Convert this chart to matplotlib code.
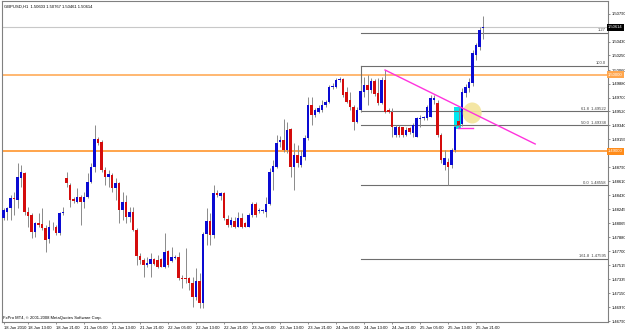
import numpy as np
import matplotlib.pyplot as plt
from matplotlib.patches import Rectangle, Ellipse

# GBPUSD H1, 18 Jun 2010 05:00 .. 25 Jun 2010 23:00 (one value per bar)
opens = [1.48128, 1.48215, 1.48258, 1.48389, 1.48367, 1.48649, 1.48714, 1.48215, 1.48172, 1.47954,
         1.48063, 1.48050, 1.48006, 1.47854, 1.48011, 1.48019, 1.47933, 1.48193, 1.48649, 1.48562,
         1.48376, 1.48345, 1.48410, 1.48345, 1.48410, 1.48606, 1.48801, 1.49157, 1.49127, 1.48758,
         1.48662, 1.48693, 1.48519, 1.48584, 1.48237, 1.48345, 1.48150, 1.48215, 1.47976, 1.47642,
         1.47585, 1.47520, 1.47533, 1.47594, 1.47585, 1.47594, 1.47498, 1.47702, 1.47572, 1.47611,
         1.47620, 1.47346, 1.47351, 1.47346, 1.47290, 1.47099, 1.47312, 1.47029, 1.47924, 1.48098,
         1.47911, 1.48462, 1.48423, 1.48454, 1.48115, 1.48041, 1.48098, 1.48019, 1.48137, 1.48072,
         1.48019, 1.48172, 1.48315, 1.48219, 1.48219, 1.48215, 1.48315, 1.48736, 1.48801, 1.49127,
         1.49149, 1.49018, 1.49292, 1.48793, 1.48953, 1.48822, 1.48931, 1.49170, 1.49604, 1.49474,
         1.49518, 1.49539, 1.49604, 1.49648, 1.49835, 1.49843, 1.49930, 1.49939, 1.49778, 1.49670,
         1.49583, 1.49387, 1.49539, 1.49778, 1.49865, 1.49800, 1.49921, 1.49756, 1.49626, 1.49930,
         1.49539, 1.49518, 1.49213, 1.49322, 1.49313, 1.49213, 1.49300, 1.49235, 1.49192, 1.49426,
         1.49431, 1.49431, 1.49452, 1.49670, 1.49630, 1.49213, 1.48823, 1.48862, 1.48823, 1.49018,
         1.49396, 1.49357, 1.49761, 1.49826, 1.49891, 1.50256, 1.50360, 1.50603]
highs = [1.48258, 1.48280, 1.48432, 1.48476, 1.48845, 1.48823, 1.48736, 1.48280, 1.48193, 1.48085,
         1.48193, 1.48258, 1.48041, 1.48106, 1.48085, 1.48041, 1.48215, 1.48280, 1.48736, 1.48584,
         1.48410, 1.48519, 1.48432, 1.48476, 1.48714, 1.48845, 1.49344, 1.49192, 1.49149, 1.48801,
         1.48758, 1.48714, 1.48649, 1.48606, 1.48476, 1.48432, 1.48280, 1.48280, 1.47998, 1.47672,
         1.47607, 1.47629, 1.47672, 1.47607, 1.47650, 1.47607, 1.47941, 1.47715, 1.47759, 1.47650,
         1.47694, 1.47390, 1.47737, 1.47368, 1.47368, 1.47477, 1.47411, 1.47954, 1.48258, 1.48193,
         1.48562, 1.48497, 1.48476, 1.48476, 1.48172, 1.48150, 1.48150, 1.48215, 1.48193, 1.48085,
         1.48193, 1.48345, 1.48345, 1.48258, 1.48245, 1.48410, 1.48780, 1.48888, 1.49214, 1.49201,
         1.49418, 1.49388, 1.49301, 1.49105, 1.49084, 1.49018, 1.49213, 1.49713, 1.49713, 1.49561,
         1.49604, 1.49670, 1.49670, 1.49865, 1.49887, 1.49952, 1.49973, 1.49952, 1.49843, 1.49778,
         1.49604, 1.49583, 1.49887, 1.49973, 1.49995, 1.49952, 1.49939, 1.49952, 1.49973, 1.50060,
         1.49561, 1.49561, 1.49344, 1.49344, 1.49322, 1.49322, 1.49322, 1.49366, 1.49452, 1.49474,
         1.49461, 1.49604, 1.49735, 1.49735, 1.49670, 1.49240, 1.49018, 1.48914, 1.49044, 1.49344,
         1.49565, 1.49826, 1.49878, 1.49956, 1.50321, 1.50412, 1.50621, 1.50767]
lows = [1.48106, 1.48106, 1.48106, 1.48172, 1.48258, 1.48541, 1.48172, 1.48019, 1.47867, 1.47889,
        1.48019, 1.47976, 1.47694, 1.47802, 1.47976, 1.47911, 1.47911, 1.48172, 1.48541, 1.48280,
        1.48324, 1.48324, 1.48041, 1.48258, 1.48389, 1.48584, 1.48736, 1.49084, 1.48736, 1.48562,
        1.48541, 1.48476, 1.48367, 1.48063, 1.48106, 1.48063, 1.48085, 1.47967, 1.47520, 1.47533,
        1.47368, 1.47498, 1.47368, 1.47520, 1.47477, 1.47490, 1.47477, 1.47498, 1.47563, 1.47594,
        1.47325, 1.47216, 1.47281, 1.47194, 1.46977, 1.47064, 1.46955, 1.46955, 1.47781, 1.47781,
        1.47867, 1.48410, 1.48367, 1.48106, 1.48019, 1.48019, 1.47998, 1.48011, 1.47998, 1.48011,
        1.48011, 1.48150, 1.48150, 1.48193, 1.48202, 1.48150, 1.48302, 1.48497, 1.48780, 1.49053,
        1.48997, 1.48975, 1.48671, 1.48497, 1.48801, 1.48801, 1.48888, 1.49148, 1.49344, 1.49452,
        1.49496, 1.49518, 1.49583, 1.49635, 1.49808, 1.49821, 1.49908, 1.49713, 1.49626, 1.49539,
        1.49279, 1.49366, 1.49518, 1.49713, 1.49604, 1.49756, 1.49722, 1.49604, 1.49617, 1.49505,
        1.49496, 1.49192, 1.49192, 1.49192, 1.49183, 1.49200, 1.49226, 1.49192, 1.49183, 1.49322,
        1.49409, 1.49409, 1.49444, 1.49617, 1.49187, 1.48849, 1.48757, 1.48558, 1.48783, 1.48992,
        1.49305, 1.49331, 1.49709, 1.49774, 1.49852, 1.50191, 1.50321, 1.50461]
closes = [1.48237, 1.48258, 1.48389, 1.48376, 1.48671, 1.48736, 1.48215, 1.48158, 1.47954, 1.48063,
          1.48041, 1.48006, 1.47846, 1.48011, 1.48019, 1.47933, 1.48193, 1.48215, 1.48584, 1.48367,
          1.48358, 1.48410, 1.48345, 1.48410, 1.48606, 1.48801, 1.49157, 1.49114, 1.48758, 1.48662,
          1.48706, 1.48519, 1.48584, 1.48237, 1.48345, 1.48150, 1.48215, 1.47976, 1.47642, 1.47585,
          1.47520, 1.47550, 1.47594, 1.47533, 1.47498, 1.47498, 1.47694, 1.47520, 1.47629, 1.47629,
          1.47346, 1.47333, 1.47338, 1.47290, 1.47099, 1.47312, 1.47029, 1.47924, 1.48098, 1.47911,
          1.48462, 1.48432, 1.48454, 1.48128, 1.48041, 1.48106, 1.48019, 1.48137, 1.48019, 1.48019,
          1.48172, 1.48315, 1.48172, 1.48237, 1.48237, 1.48315, 1.48736, 1.48810, 1.49105, 1.49149,
          1.49018, 1.49279, 1.48801, 1.48953, 1.48845, 1.48940, 1.49170, 1.49604, 1.49474, 1.49539,
          1.49561, 1.49604, 1.49648, 1.49843, 1.49852, 1.49930, 1.49943, 1.49735, 1.49648, 1.49583,
          1.49387, 1.49539, 1.49791, 1.49865, 1.49800, 1.49921, 1.49748, 1.49626, 1.49930, 1.49518,
          1.49518, 1.49322, 1.49322, 1.49213, 1.49213, 1.49279, 1.49257, 1.49344, 1.49431, 1.49439,
          1.49444, 1.49583, 1.49691, 1.49696, 1.49213, 1.48888, 1.48914, 1.48797, 1.49018, 1.49318,
          1.49344, 1.49774, 1.49839, 1.49904, 1.50282, 1.50386, 1.50582, 1.50614]

time_labels = ["18 Jun 2010", "18 Jun 13:00", "18 Jun 21:00", "21 Jun 05:00", "21 Jun 13:00",
               "21 Jun 21:00", "22 Jun 05:00", "22 Jun 13:00", "22 Jun 21:00", "23 Jun 05:00",
               "23 Jun 13:00", "23 Jun 21:00", "24 Jun 05:00", "24 Jun 13:00", "24 Jun 21:00",
               "25 Jun 05:00", "25 Jun 13:00", "25 Jun 21:00"]
time_label_bars = [0, 7, 15, 23, 31, 39, 47, 55, 63, 71, 79, 87, 95, 103, 111, 119, 127, 135]

# right scale (1.50610 and 1.48970 sit under the price boxes)
price_labels = ["1.46790", "1.46970", "1.47150", "1.47335", "1.47515", "1.47700", "1.47880",
                "1.48065", "1.48245", "1.48430", "1.48610", "1.48790", "1.48970", "1.49155",
                "1.49340", "1.49520", "1.49700", "1.49880", "1.50060", "1.50250", "1.50430",
                "1.50610", "1.50790"]
hidden_labels = ["1.48970", "1.50610"]

# horizontal support / resistance lines
levels = [1.50000, 1.49000]
level_labels = ["1.50000", "1.49000"]

# fibonacci object
fib_bar = 102
fib_prices = [1.50542, 1.50118, 1.49522, 1.49338, 1.48558, 1.47595]
fib_texts = ["1.27", "100.0", "61.8  1.49522", "50.0  1.49338", "0.0  1.48558", "161.8  1.47595"]

# trend line + marks
trend_bars = [109, 151.9]
trend_prices = [1.50060, 1.49096]
mark_bars = [129.9, 134.1]
mark_price = 1.49305
box_bars = [128.7, 130.7]
box_prices = [1.49292, 1.49578]
circle_bar, circle_price = 133.9, 1.49500

bid = 1.50614
header = "GBPUSD,H1  1.50603 1.50767 1.50461 1.50614"
footer = "FxPro MT4, \u00a9 2001-2008 MetaQuotes Software Corp."

plt.rcParams['font.family'] = ['Liberation Sans', 'DejaVu Sans']
fs = 3.0
fig = plt.figure(figsize=(6.25, 3.30), dpi=100)
ax = fig.add_axes([2/625, 8/330, 606/625, 321/330])
ax.set_xlim(-0.43, 172.7)
ax.set_ylim(1.46777, 1.50959)

x = np.arange(len(opens))
o = np.array(opens)
h = np.array(highs)
l = np.array(lows)
c = np.array(closes)
up = c >= o

# background objects
ax.add_patch(Rectangle((box_bars[0], box_prices[0]), box_bars[1] - box_bars[0],
                       box_prices[1] - box_prices[0], color='#00e8f0', zorder=1, lw=0))
ax.axhline(bid, color='#c8c8c8', lw=0.8, zorder=1)
ax.axhline(levels[0], color='#ffb266', lw=1.3, zorder=2)
ax.axhline(levels[1], color='#ff8c1a', lw=1.1, zorder=2)

for p, t in zip(fib_prices, fib_texts):
    ax.plot([fib_bar, 172.7], [p, p], color='#6e6e6e', lw=0.8, zorder=2)
    ax.text(172.1, p + 0.00010, t, fontsize=fs, color='#404040', ha='right', va='bottom', zorder=6)
ax.plot([fib_bar, fib_bar], [fib_prices[1], fib_prices[2]], color='#6e6e6e', lw=0.8, zorder=2)

# candles
ax.vlines(x, l, h, color='#8a8a8a', lw=0.7, zorder=3)
body_lo = np.minimum(o, c)
body_h = np.maximum(np.abs(c - o), 0.00007)
cols = ['#0a0ad2' if u else '#d40c0c' for u in up]
ax.bar(x, body_h, bottom=body_lo, width=0.72, color=cols, lw=0, zorder=4)

ax.add_patch(Ellipse((circle_bar, circle_price), 5.4, 0.00274, color='#f3e49a', alpha=0.9, lw=0, zorder=5))
ax.plot(trend_bars, trend_prices, color='#ff33dd', lw=1.0, zorder=6)
ax.plot(mark_bars, [mark_price, mark_price], color='#ff33dd', lw=1.0, zorder=6)

# axes look
for s in ax.spines.values():
    s.set_color('#808080')
    s.set_linewidth(0.8)
ax.yaxis.tick_right()
ax.set_yticks([float(v) for v in price_labels])
ax.set_yticklabels(['' if v in hidden_labels else v for v in price_labels])
ax.set_xticks(time_label_bars)
ax.set_xticklabels(time_labels, ha='left')
ax.tick_params(axis='both', labelsize=fs, length=1.5, width=0.6, color='#808080', pad=1.2)

tr = ax.get_yaxis_transform()
ax.text(1.0, bid, "1.50614", transform=tr, fontsize=fs, color='white', va='center', ha='left',
        bbox=dict(boxstyle='square,pad=0.35', fc='black', ec='none'), zorder=10, clip_on=False)
ax.text(1.0, levels[0], level_labels[0], transform=tr, fontsize=fs, color='white', va='center', ha='left',
        bbox=dict(boxstyle='square,pad=0.35', fc='#ffa64d', ec='none'), zorder=10, clip_on=False)
ax.text(1.0, levels[1], level_labels[1], transform=tr, fontsize=fs, color='white', va='center', ha='left',
        bbox=dict(boxstyle='square,pad=0.35', fc='#ff8c1a', ec='none'), zorder=10, clip_on=False)

ax.text(0.004, 0.988, header, transform=ax.transAxes, fontsize=fs, va='top', ha='left')
ax.text(0.002, 0.006, footer, transform=ax.transAxes, fontsize=fs, va='bottom', ha='left')

fig.savefig('out.png', dpi=100)
